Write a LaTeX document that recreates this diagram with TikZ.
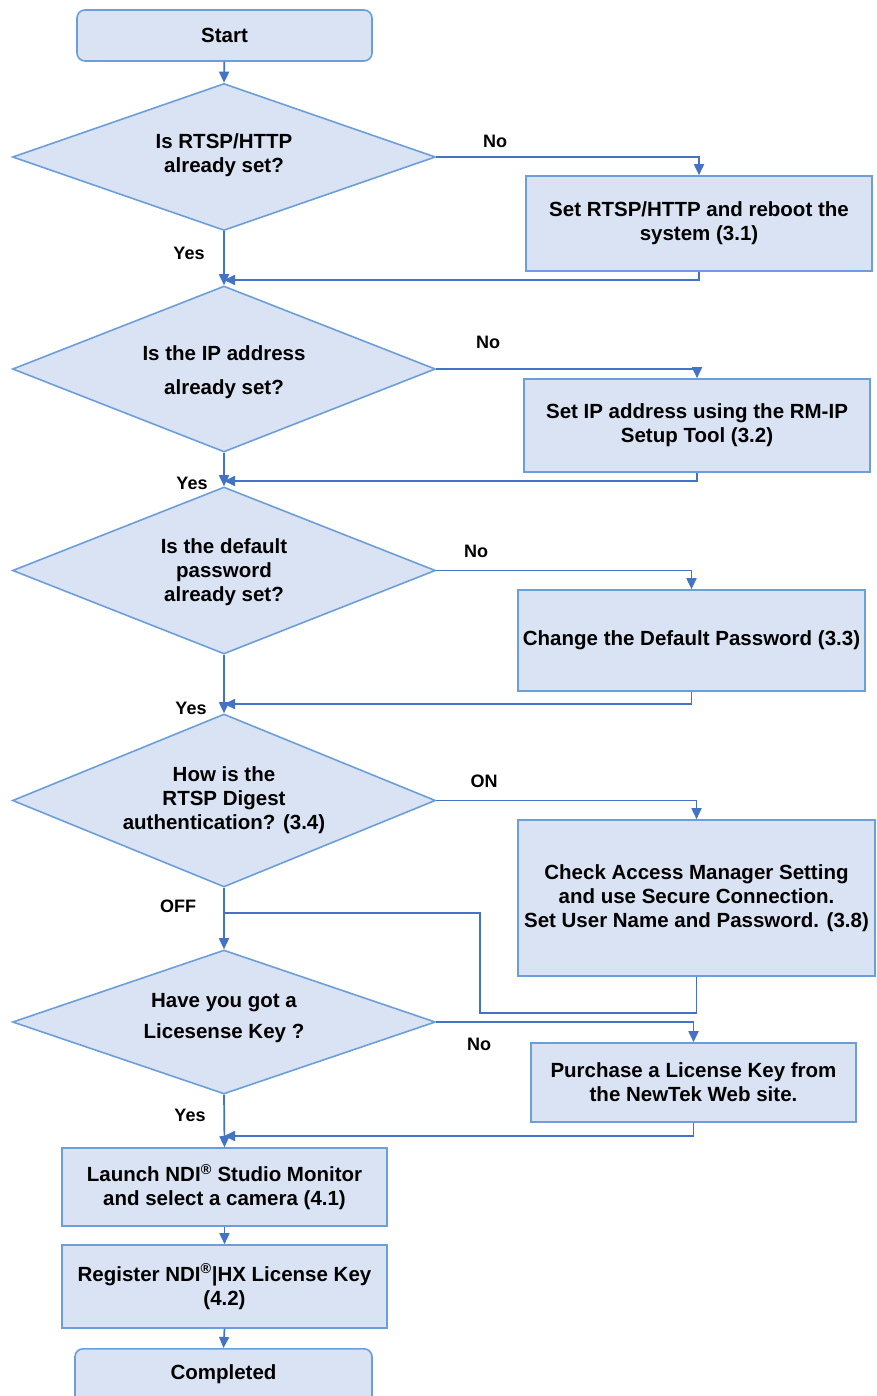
\documentclass[tikz,border=0pt]{standalone}
\usepackage{fontspec}
\setmainfont{Liberation Sans}
\usetikzlibrary{shapes.geometric,arrows.meta}
\definecolor{boxfill}{RGB}{218,227,243}
\definecolor{boxline}{RGB}{108,158,218}
\definecolor{conn}{RGB}{68,114,196}
\begin{document}
\begin{tikzpicture}[x=1pt,y=-1pt,
 every node/.style={font=\bfseries\fontsize{20.5}{24}\selectfont, text=black},
 procbox/.style={draw=boxline, fill=boxfill, line width=1.6pt, rectangle, align=center, inner sep=0pt},
 termbox/.style={procbox, rounded corners=8pt},
 decbox/.style={draw=boxline, fill=boxfill, line width=1.6pt, diamond, inner sep=0pt, minimum width=423pt},
 dectext/.style={align=center, inner sep=0pt},
 lbl/.style={font=\bfseries\fontsize{18}{21}\selectfont, inner sep=0pt},
 link/.style={draw=conn, line width=1.7pt},
 arr/.style={link, -{Triangle[length=11pt,width=10pt]}}]
\fill[white] (0,0) rectangle (876,1396);
\useasboundingbox (0,0) rectangle (876,1396);

% main column
\node[termbox, minimum width=295pt, minimum height=51pt] (start) at (224.5,35.5) {Start};
\node[decbox, minimum height=147pt] (d1) at (224,157) {};
\node[dectext] (t1) at (224,155) {Is RTSP/HTTP\\already set?};
\node[decbox, minimum height=166pt] (d2) at (224,369) {};
\node[dectext, font=\bfseries\fontsize{20.5}{34}\selectfont] (t2) at (224,372) {Is the IP address\\already set?};
\node[decbox, minimum height=167pt] (d3) at (224,570.5) {};
\node[dectext] (t3) at (224,572) {Is the default\\password\\already set?};
\node[decbox, minimum height=173pt] (d4) at (224,800.5) {};
\node[dectext] (t4) at (224,800) {How is the\\RTSP Digest\\authentication? (3.4)};
\node[decbox, minimum height=144pt] (d5) at (224,1022) {};
\node[dectext, font=\bfseries\fontsize{20.5}{31}\selectfont] (t5) at (224,1018) {Have you got a\\Licesense Key ?};
\node[procbox, minimum width=325pt, minimum height=78pt] (b6) at (224.5,1187) {Launch NDI\textsuperscript{®} Studio Monitor\\and select a camera (4.1)};
\node[procbox, minimum width=325pt, minimum height=83pt] (b7) at (224.5,1286.5) {Register NDI\textsuperscript{®}|HX License Key\\(4.2)};
\node[termbox, minimum width=297pt, minimum height=64pt, anchor=north] (end) at (223.5,1348) {};
\node[inner sep=0pt] (endt) at (223.5,1374) {Completed};

% right column
\node[procbox, minimum width=346pt, minimum height=95pt] (b1) at (699,223.5) {Set RTSP/HTTP and reboot the\\system (3.1)};
\node[procbox, minimum width=346pt, minimum height=93pt] (b2) at (697,425.5) {Set IP address using the RM-IP\\Setup Tool (3.2)};
\node[procbox, minimum width=347pt, minimum height=101pt] (b3) at (691.5,640.5) {Change the Default Password (3.3)};
\node[procbox, minimum width=357pt, minimum height=156pt] (b4) at (696.5,898) {Check Access Manager Setting\\and use Secure Connection.\\Set User Name and Password. (3.8)};
\node[procbox, minimum width=325pt, minimum height=79pt] (b5) at (693.5,1082.5) {Purchase a License Key from\\the NewTek Web site.};

% join points
\coordinate (j1) at (224,280);
\coordinate (j2) at (224,481);
\coordinate (j3) at (224,704);
\coordinate (k1) at (480,1013);
\coordinate (k2) at (224,913);
\coordinate (j5) at (224,1136);

% connectors
\draw[arr] (start) -- (d1.north);
\draw[arr] (d1.east) -| (b1.north);
\draw[arr] (b1.south) |- (j1);
\draw[arr] (d1.south) -- (d2.north);
\draw[arr] (d2.east) -| (b2.north);
\draw[arr] (b2.south) |- (j2);
\draw[arr] (d2.south) -- (d3.north);
\draw[arr] (d3.east) -| (b3.north);
\draw[arr] (b3.south) |- (j3);
\draw[arr] (d3.south) -- (d4.north);
\draw[arr] (d4.east) -| (b4.north);
\draw[link] (b4.south) |- (k1) |- (k2);
\draw[arr] (d4.south) -- (d5.north);
\draw[arr] (d5.east) -| (b5.north);
\draw[arr] (b5.south) |- (j5);
\draw[arr] (d5.south) -- (b6.north);
\draw[arr] (b6.south) -- (b7.north);
\draw[arr] (b7.south) -- (end.north);

% labels
\node[lbl] (l1) at (495,141) {No};
\node[lbl] (l2) at (189,253) {Yes};
\node[lbl] (l3) at (488,342) {No};
\node[lbl] (l4) at (192,483) {Yes};
\node[lbl] (l5) at (476,551) {No};
\node[lbl] (l6) at (191,708) {Yes};
\node[lbl] (l7) at (484,781) {ON};
\node[lbl] (l8) at (178,906) {OFF};
\node[lbl] (l9) at (479,1044) {No};
\node[lbl] (l10) at (190,1115) {Yes};
\end{tikzpicture}
\end{document}
